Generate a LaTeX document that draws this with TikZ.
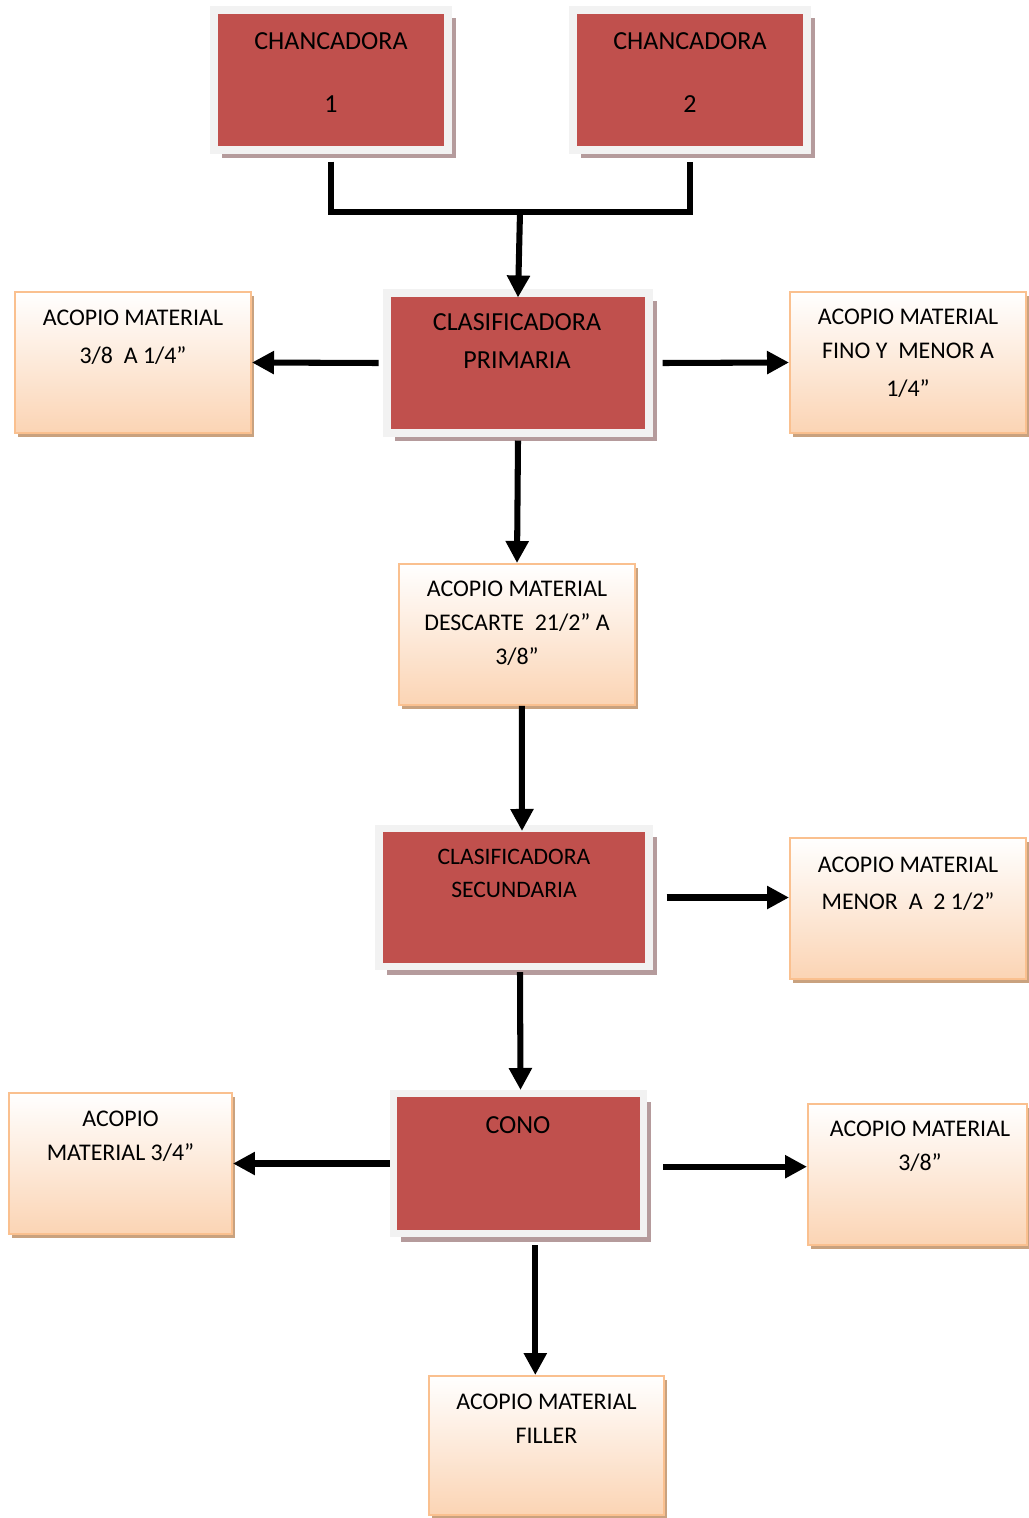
\documentclass[tikz,border=0pt]{standalone}
\usepackage{fontspec}
\setmainfont{Carlito}
\usetikzlibrary{arrows.meta,shadows,calc}
\definecolor{chred}{HTML}{C0504D}
\definecolor{chrim}{HTML}{F2F2F2}
\definecolor{chshadow}{HTML}{B59B9C}
\definecolor{acborder}{HTML}{FAC08F}
\definecolor{acfill}{HTML}{FBD4B4}
\definecolor{acshadow}{HTML}{C9A27F}

\begin{document}
\begin{tikzpicture}[x=0.025cm, y=-0.025cm, >={Triangle[length=0.55cm,width=0.55cm]},
  machine/.style={rectangle, draw=chrim, line width=5pt, fill=chred, inner sep=0pt,
    drop shadow={shadow xshift=0.19cm, shadow yshift=-0.21cm, fill=chshadow, opacity=1}},
  acopio/.style={rectangle, draw=acborder, line width=1.4pt, top color=white, bottom color=acfill, inner sep=0pt,
    drop shadow={shadow xshift=0.08cm, shadow yshift=-0.1cm, fill=acshadow, opacity=1}},
  boxsize/.style 2 args={minimum width=#1*0.025cm, minimum height=#2*0.025cm},
  mtext/.style={align=center, font=\fontsize{18.5}{24.2}\selectfont},
  atext/.style={align=center, font=\fontsize{17}{24.2}\selectfont},
  line/.style={line width=4.3pt},
  flow/.style={line, ->}]

  \useasboundingbox (0,0) rectangle (1029,1518);

  % machines
  \node[machine, boxsize={234}{140}] (ch1) at (331,80) {};
  \node[machine, boxsize={234}{140}] (ch2) at (690,80) {};
  \node[machine, boxsize={262}{140}] (cp) at (518,363) {};
  \node[machine, boxsize={270}{138}] (cs) at (514,897.5) {};
  \node[machine, boxsize={250}{140}] (cono) at (518.5,1163.5) {};

  % stockpiles
  \node[acopio, boxsize={236}{141}] (a1) at (133,362.5) {};
  \node[acopio, boxsize={236}{141}] (a2) at (908,362.5) {};
  \node[acopio, boxsize={236}{141}] (a3) at (517,634.5) {};
  \node[acopio, boxsize={236}{141}] (a4) at (908,908.5) {};
  \node[acopio, boxsize={223}{141}] (a5) at (120.5,1163.5) {};
  \node[acopio, boxsize={219}{141}] (a6) at (917.5,1174.5) {};
  \node[acopio, boxsize={235}{139}] (a7) at (546.5,1445.5) {};

  % labels
  \node[mtext] (ch1t) at (331,72.5) {CHANCADORA\\[20.6pt]1};
  \node[mtext] (ch2t) at (690,72.5) {CHANCADORA\\[20.6pt]2};
  \node[mtext] (cpt) at (517,341) {CLASIFICADORA\\[2.8pt]PRIMARIA};
  \node[align=center, font=\fontsize{16.8}{23.5}\selectfont] (cst) at (514,873.5) {CLASIFICADORA\\SECUNDARIA};
  \node[mtext] (conot) at (518,1125) {CONO};
  \node[atext] (a1t) at (133,337) {ACOPIO MATERIAL\\[2.8pt]3/8\ \ A 1/4”};
  \node[atext] (a2t) at (908,353.5) {ACOPIO MATERIAL\\FINO Y\ \ MENOR A\\[2.8pt]1/4”};
  \node[atext] (a3t) at (517,623.5) {ACOPIO MATERIAL\\DESCARTE\ \ 21/2” A\\3/8”};
  \node[atext] (a4t) at (908,883.5) {ACOPIO MATERIAL\\[2.2pt]MENOR\ \ A\ \ 2 1/2”};
  \node[atext] (a5t) at (120.5,1136.5) {ACOPIO\\MATERIAL 3/4”};
  \node[atext] (a6t) at (920,1146.5) {ACOPIO MATERIAL\\3/8”};
  \node[atext] (a7t) at (546.5,1418.5) {ACOPIO MATERIAL\\FILLER};

  % connectors
  \coordinate (j) at (520,212);
  \coordinate (c4) at ([xshift=0.35cm]cs.east);
  \coordinate (c6) at ([xshift=0.4cm,yshift=-0.08cm]cono.east);
  \draw[line] ([yshift=-0.2cm]ch1.south) |- (j) -| ([yshift=-0.2cm]ch2.south);
  \draw[flow] (j) -- ([yshift=-0.2cm]cp.north);
  \draw[flow] ([xshift=-0.12cm]cp.west) -- (a1.east);
  \draw[flow] ([xshift=0.25cm]cp.east) -- (a2.west);
  \draw[flow] ([yshift=-0.1cm]cp.south) -- (a3.north);
  \draw[flow] ([xshift=0.12cm]a3.south) -- ([xshift=0.2cm,yshift=-0.15cm]cs.north);
  \draw[flow] (c4) -- (c4 -| a4.west);
  \draw[flow] ([xshift=0.15cm,yshift=-0.05cm]cs.south) -- ([xshift=0.05cm]cono.north);
  \draw[flow] (cono.west) -- (a5.east);
  \draw[flow] (c6) -- (c6 -| a6.west);
  \draw[flow] ([xshift=0.42cm,yshift=-0.2cm]cono.south) -- ([xshift=0.42cm]cono.south |- a7.north);
\end{tikzpicture}
\end{document}
